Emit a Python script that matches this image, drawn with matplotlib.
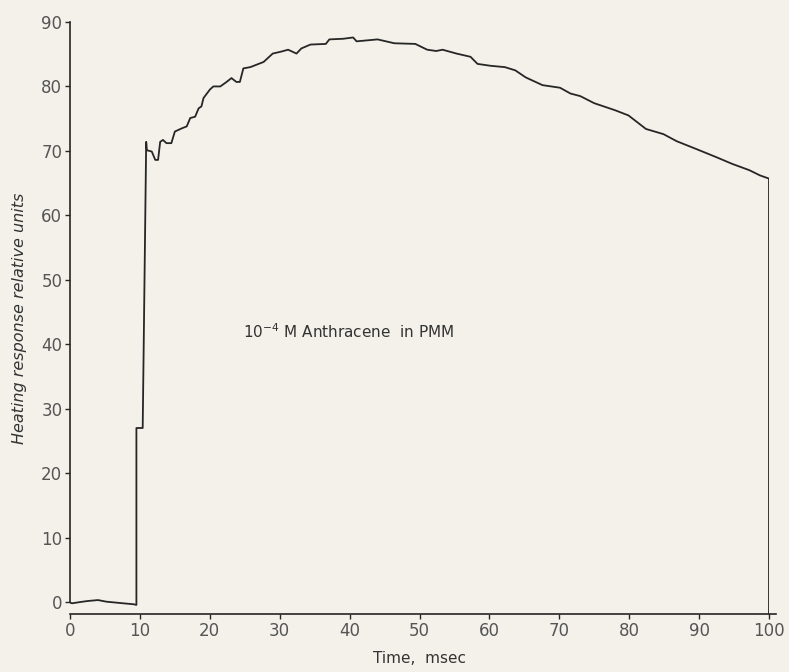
import matplotlib
matplotlib.use("Agg")
import matplotlib.pyplot as plt

# ---- data ----
time_ms = [0.0, 0.3, 1.5, 2.5, 4.0, 5.2, 7.6, 9.1, 9.5, 9.5, 10.4, 10.9,
           11.0, 11.7, 12.2, 12.6, 12.9, 13.3, 13.8, 14.5, 15.0, 16.0, 16.7,
           17.2, 17.9, 18.4, 18.8, 19.1, 20.0, 20.5, 21.5, 22.4, 23.1, 23.8,
           24.3, 24.8, 25.8, 27.7, 29.0, 30.2, 31.2, 32.4, 33.1, 34.4, 36.6,
           37.1, 39.1, 40.5, 41.0, 44.0, 46.4, 49.4, 51.1, 52.4, 53.3, 55.3,
           57.3, 58.3, 60.2, 62.2, 63.7, 65.2, 67.6, 70.1, 71.6, 73.0, 75.0,
           78.0, 79.9, 82.4, 84.9, 86.8, 89.8, 92.3, 94.7, 97.2, 98.7, 100.0,
           100.0]
response = [-0.1, -0.2, 0.0, 0.15, 0.3, 0.05, -0.2, -0.35, -0.45, 27.0, 27.0,
            71.4, 70.1, 69.9, 68.6, 68.6, 71.4, 71.7, 71.2, 71.2, 73.0, 73.5,
            73.8, 75.1, 75.3, 76.6, 76.9, 78.2, 79.5, 80.0, 80.0, 80.7, 81.3,
            80.7, 80.7, 82.8, 83.0, 83.8, 85.1, 85.4, 85.7, 85.1, 85.9, 86.5,
            86.6, 87.3, 87.4, 87.6, 87.0, 87.3, 86.7, 86.6, 85.7, 85.5, 85.7,
            85.1, 84.6, 83.5, 83.2, 83.0, 82.5, 81.4, 80.2, 79.8, 78.9, 78.5,
            77.4, 76.3, 75.5, 73.4, 72.6, 71.5, 70.2, 69.1, 68.0, 67.0, 66.2,
            65.7, -1.85]

x_ticks = [0, 10, 20, 30, 40, 50, 60, 70, 80, 90, 100]
y_ticks = [0, 10, 20, 30, 40, 50, 60, 70, 80, 90]
annotation = r"10$^{-4}$ M Anthracene  in PMM"
x_label = "Time,  msec"
y_label = "Heating response relative units"

# ---- figure ----
BG = "#f3f1ea"
INK = "#262626"
GREY = "#555555"

plt.rcParams["font.family"] = ["DejaVu Sans"]
plt.rcParams["mathtext.fontset"] = "dejavusans"

fig = plt.figure(figsize=(7.89, 6.72), dpi=100, facecolor=BG)
W, H = 789, 672
x0_px, x100_px = 70, 769
y0_px, y90_px = 602, 22
ppu_y = (y0_px - y90_px) / 90.0
ylo, yhi = -2.6, 90.6
bottom_px = y0_px - ylo * ppu_y
top_px = y0_px - yhi * ppu_y
ax = fig.add_axes([x0_px / W, (H - bottom_px) / H,
                   (x100_px - x0_px) / W, (bottom_px - top_px) / H])
ax.set_facecolor(BG)

ax.plot(time_ms, response, color=INK, lw=1.3, solid_joinstyle="round")

ax.set_xlim(0, 100)
ax.set_ylim(ylo, yhi)

ax.spines["top"].set_visible(False)
ax.spines["right"].set_visible(False)
ax.spines["left"].set_bounds(0, 90)
ax.spines["left"].set_color(INK)
ax.spines["left"].set_linewidth(1.2)
ax.spines["bottom"].set_position(("data", -1.85))
ax.spines["bottom"].set_bounds(0, 101)
ax.spines["bottom"].set_color(INK)
ax.spines["bottom"].set_linewidth(1.2)

ax.set_xticks(x_ticks)
ax.set_yticks(y_ticks)
ax.set_xticklabels([str(v) for v in x_ticks])
ax.set_yticklabels([str(v) for v in y_ticks])
ax.tick_params(axis="both", direction="out", length=3.5, width=1.0,
               color=INK, labelcolor=GREY, labelsize=12, pad=2)

ax.set_xlabel(x_label, fontsize=11, color="#333333", labelpad=8)
ax.set_ylabel(y_label, fontsize=11.5, color="#333333", style="italic",
              labelpad=10)

ax.text(24.7, 41.9, annotation, fontsize=11, color="#333333",
        ha="left", va="center")

fig.savefig("out.png", dpi=100, facecolor=BG)
